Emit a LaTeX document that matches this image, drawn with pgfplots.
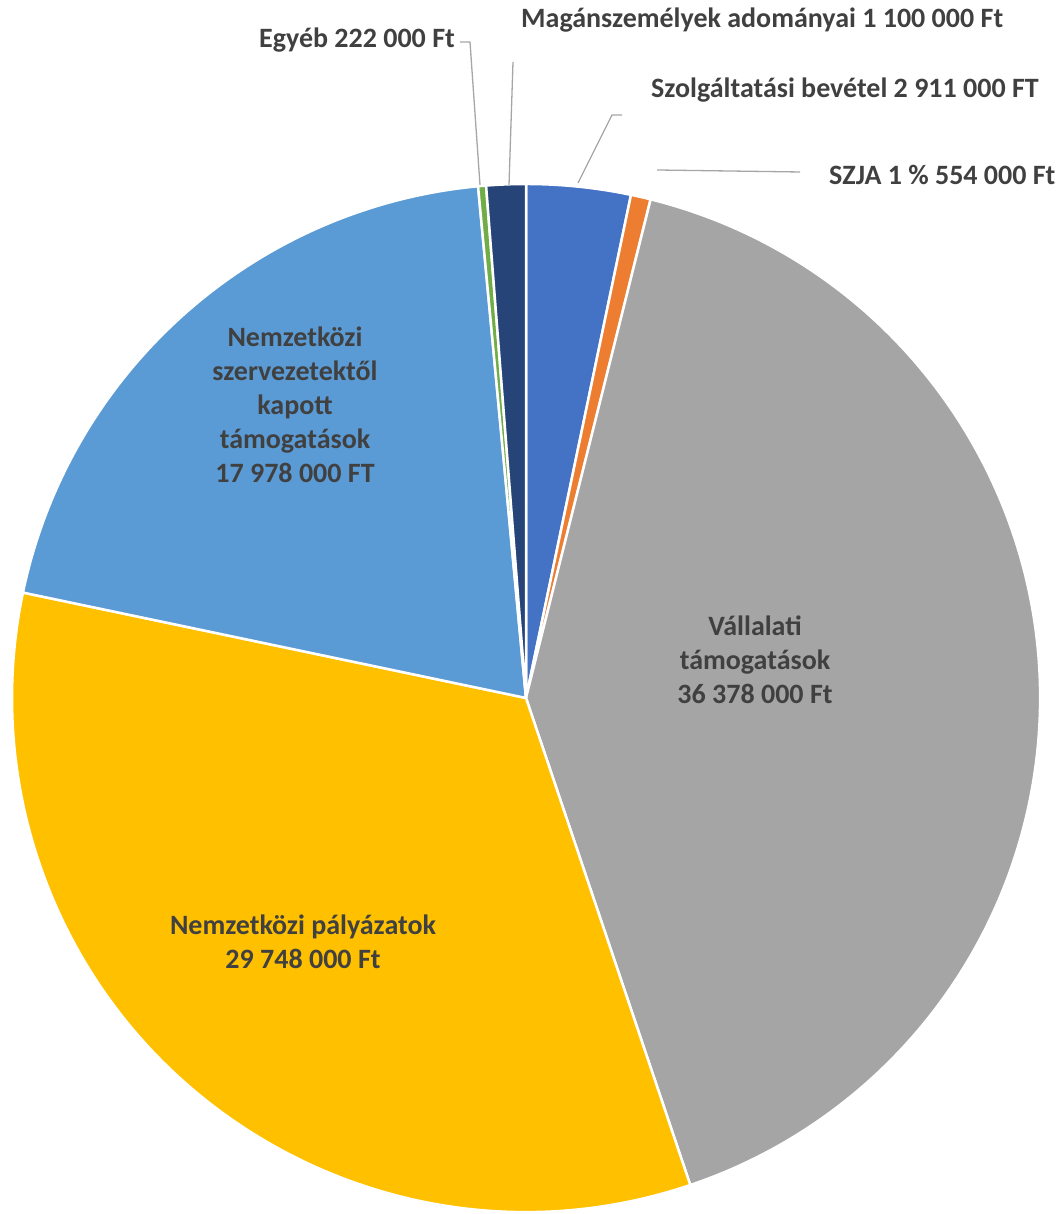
\documentclass[border=0pt]{standalone}
\usepackage{fontspec}
\setmainfont{Carlito}
\usepackage{pgfplots}
\usepackage{pgfplotstable}
\pgfplotsset{compat=1.18}
\definecolor{slice0}{HTML}{4472C4}
\definecolor{slice1}{HTML}{ED7D31}
\definecolor{slice2}{HTML}{A5A5A5}
\definecolor{slice3}{HTML}{FFC000}
\definecolor{slice4}{HTML}{5B9BD5}
\definecolor{slice5}{HTML}{70AD47}
\definecolor{slice6}{HTML}{264478}
\definecolor{txt}{HTML}{404040}
\definecolor{lead}{HTML}{A6A6A6}
% values in million Ft, clockwise from 12 o'clock
\pgfplotstableread[col sep=comma]{
name,value
Szolgaltatasi bevetel,2.911
SZJA 1 szazalek,0.554
Vallalati tamogatasok,36.378
Nemzetkozi palyazatok,29.748
Nemzetkozi szervezetek,17.978
Egyeb,0.222
Maganszemelyek adomanyai,1.100
}\piedata
\gdef\total{0}%
\foreach \i in {0,...,6}{%
  \pgfplotstablegetelem{\i}{value}\of\piedata
  \edef\v{\pgfplotsretval}%
  \pgfmathparse{\total+\v}%
  \xdef\total{\pgfmathresult}%
}%
\gdef\curang{90}%
\foreach \i in {0,...,6}{%
  \pgfplotstablegetelem{\i}{value}\of\piedata
  \edef\v{\pgfplotsretval}%
  \pgfmathparse{\v*(360/\total)}%
  \edef\ang{\pgfmathresult}%
  \pgfmathparse{\curang-\ang}%
  \edef\endang{\pgfmathresult}%
  \expandafter\xdef\csname sa\i\endcsname{\curang}%
  \expandafter\xdef\csname ea\i\endcsname{\endang}%
  \xdef\curang{\endang}%
}%
\begin{document}
\begin{tikzpicture}
\begin{axis}[
  x=1pt, y=1pt, xmin=0, xmax=1064, ymin=0, ymax=1214,
  scale only axis, hide axis, clip=false,
]
\coordinate (BL) at (axis cs:0,0);
\coordinate (TR) at (axis cs:1064,1214);
\pgfplotsinvokeforeach{0,...,6}{
  \edef\temp{\noexpand\fill[fill=slice#1, draw=white, line width=2.5pt, line join=round]
    (axis cs:526,516) -- ++(\csname sa#1\endcsname:514pt) arc[start angle=\csname sa#1\endcsname, end angle=\csname ea#1\endcsname, radius=514pt] -- cycle;}
  \temp
}
% leader lines
\draw[lead, line width=1.3pt] (axis cs:460,1172) -- (axis cs:470,1172) -- (axis cs:480,1029);
\draw[lead, line width=1.3pt] (axis cs:513,1152) -- (axis cs:509,1029);
\draw[lead, line width=1.3pt] (axis cs:622,1099) -- (axis cs:612,1099) -- (axis cs:578,1031);
\draw[lead, line width=1.3pt] (axis cs:800,1042) -- (axis cs:657,1044);
% outside labels
\begin{scope}[every node/.style={inner sep=0pt, text=txt, font=\fontsize{28}{34}\selectfont\bfseries}]
\node[anchor=east] at (axis cs:455,1174) {Egyéb 222 000 Ft};
\node[anchor=west] at (axis cs:521,1194) {Magánszemélyek adományai 1 100 000 Ft};
\node[anchor=west] at (axis cs:651,1124) {Szolgáltatási bevétel 2 911 000 FT};
\node[anchor=west] at (axis cs:829,1039) {SZJA 1 \% 554 000 Ft};
\node[align=center] at (axis cs:295,809) {Nemzetközi\\szervezetektől\\kapott\\támogatások\\17 978 000 FT};
\node[align=center] at (axis cs:755,554) {Vállalati\\támogatások\\36 378 000 Ft};
\node[align=center] at (axis cs:303,272) {Nemzetközi pályázatok\\29 748 000 Ft};
\end{scope}
\end{axis}
\pgfresetboundingbox
\path[use as bounding box] (BL) rectangle (TR);
\end{tikzpicture}
\end{document}
